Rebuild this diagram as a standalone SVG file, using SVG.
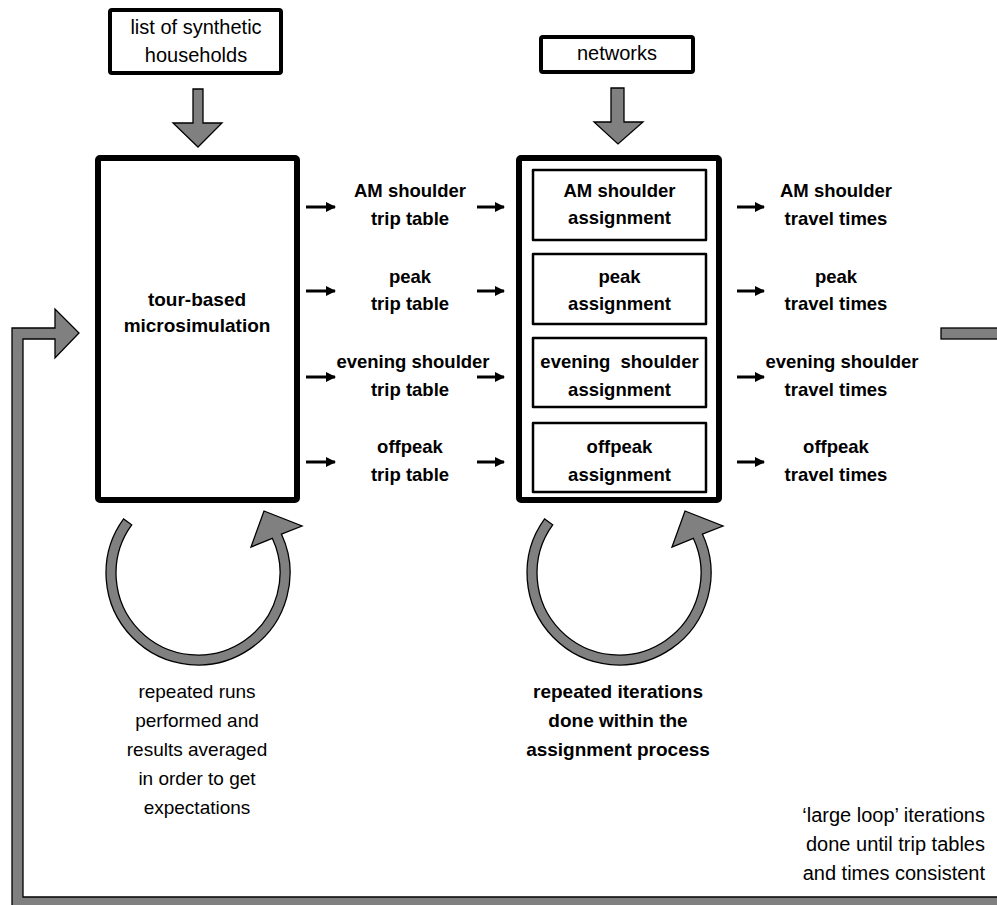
<svg xmlns="http://www.w3.org/2000/svg" width="997" height="905" viewBox="0 0 997 905">
<defs>
<style>
text{font-family:"Liberation Sans",Arial,sans-serif;fill:#000;text-anchor:middle}
.r{font-size:20px}
.b{font-size:18.5px;font-weight:bold}
.bb{font-size:19px;font-weight:bold}
.n{font-size:19px}
.box{fill:#fff;stroke:#000;stroke-linejoin:round}
.gray{fill:#808080;stroke:#000;stroke-width:1.3;stroke-linejoin:miter}
.sa{stroke:#000;stroke-width:3;fill:none;marker-end:url(#ah)}
</style>
<marker id="ah" viewBox="0 0 10 10" refX="9" refY="5" markerWidth="10" markerHeight="10" markerUnits="userSpaceOnUse" orient="auto">
<path d="M0,0 L10,5 L0,10 Z" fill="#000"/>
</marker>
</defs>

<g id="households">
<rect class="box" x="110" y="10" width="171" height="63" rx="2" stroke-width="4"/>
<text class="r" x="196" y="34">list of synthetic</text>
<text class="r" x="196" y="62">households</text>
</g>

<g id="networks">
<rect class="box" x="541" y="37" width="152" height="35" rx="2" stroke-width="4"/>
<text class="r" x="617" y="60">networks</text>
</g>

<g id="microsimulation">
<rect class="box" x="98" y="158" width="199" height="342" rx="2" stroke-width="6"/>
<text class="bb" x="197" y="306">tour-based</text>
<text class="bb" x="197" y="332">microsimulation</text>
</g>

<g id="assignment">
<rect class="box" x="519" y="158" width="200" height="342" rx="2" stroke-width="6"/>
</g>
<g id="am-assignment">
<rect class="box" x="533" y="170" width="173" height="70" stroke-width="2.5"/>
<text class="b" x="619.5" y="197">AM shoulder</text>
<text class="b" x="619.5" y="224">assignment</text>
</g>
<g id="peak-assignment">
<rect class="box" x="533" y="254" width="173" height="70" stroke-width="2.5"/>
<text class="b" x="619.5" y="283">peak</text>
<text class="b" x="619.5" y="310">assignment</text>
</g>
<g id="evening-assignment">
<rect class="box" x="533" y="338" width="173" height="69" stroke-width="2.5"/>
<text class="b" x="619.5" y="368">evening &#160;shoulder</text>
<text class="b" x="619.5" y="396">assignment</text>
</g>
<g id="offpeak-assignment">
<rect class="box" x="533" y="423" width="173" height="69" stroke-width="2.5"/>
<text class="b" x="619.5" y="453">offpeak</text>
<text class="b" x="619.5" y="481">assignment</text>
</g>

<g id="trip-tables">
<text class="b" x="410" y="197">AM shoulder</text>
<text class="b" x="410" y="225">trip table</text>
<text class="b" x="410" y="283">peak</text>
<text class="b" x="410" y="310">trip table</text>
<text class="b" x="413" y="368">evening shoulder</text>
<text class="b" x="410" y="396">trip table</text>
<text class="b" x="410" y="453">offpeak</text>
<text class="b" x="410" y="481">trip table</text>
</g>

<g id="travel-times">
<text class="b" x="836" y="197">AM shoulder</text>
<text class="b" x="836" y="225">travel times</text>
<text class="b" x="836" y="283">peak</text>
<text class="b" x="836" y="310">travel times</text>
<text class="b" x="842" y="368">evening shoulder</text>
<text class="b" x="836" y="396">travel times</text>
<text class="b" x="836" y="453">offpeak</text>
<text class="b" x="836" y="481">travel times</text>
</g>

<g id="connectors">
<polygon class="gray" points="193,89 203,89 203,123 222,123 198,147 173,123 193,123"/>
<polygon class="gray" points="611,88 624,88 624,122 643,122 618,144 594,122 611,122"/>
<line class="sa" x1="306" y1="207" x2="335" y2="207"/>
<line class="sa" x1="306" y1="291" x2="335" y2="291"/>
<line class="sa" x1="306" y1="377" x2="335" y2="377"/>
<line class="sa" x1="306" y1="462" x2="335" y2="462"/>
<line class="sa" x1="477" y1="207" x2="504" y2="207"/>
<line class="sa" x1="477" y1="291" x2="504" y2="291"/>
<line class="sa" x1="477" y1="377" x2="504" y2="377"/>
<line class="sa" x1="477" y1="462" x2="504" y2="462"/>
<line class="sa" x1="737" y1="207" x2="764" y2="207"/>
<line class="sa" x1="737" y1="291" x2="764" y2="291"/>
<line class="sa" x1="737" y1="377" x2="764" y2="377"/>
<line class="sa" x1="737" y1="462" x2="764" y2="462"/>
<path id="loop-left" class="gray" d="M123.6,518.9 A92,92 0 1 0 281.4,534.1 L302,526 L264,511 L251,547 L272.3,538.3 A82,82 0 1 1 131.7,524.8 Z"/>
<path id="loop-right" class="gray" transform="translate(421,0)" d="M123.6,518.9 A92,92 0 1 0 281.4,534.1 L302,526 L264,511 L251,547 L272.3,538.3 A82,82 0 1 1 131.7,524.8 Z"/>
<rect class="gray" x="941" y="328" width="70" height="11"/>
<polygon class="gray" points="1010,897 23,897 23,339 55,339 55,358 79,333 55,309 55,328 12,328 12,910 1010,910"/>
</g>

<g id="notes">
<text class="n" x="197" y="698">repeated runs</text>
<text class="n" x="197" y="727">performed and</text>
<text class="n" x="197" y="756">results averaged</text>
<text class="n" x="197" y="785">in order to get</text>
<text class="n" x="197" y="814">expectations</text>
<text class="bb" x="618" y="698">repeated iterations</text>
<text class="bb" x="618" y="727">done within the</text>
<text class="bb" x="618" y="756">assignment process</text>
<text class="r" x="985" y="822" style="text-anchor:end">‘large loop’ iterations</text>
<text class="r" x="985" y="851" style="text-anchor:end">done until trip tables</text>
<text class="r" x="985" y="880" style="text-anchor:end">and times consistent</text>
</g>
</svg>
